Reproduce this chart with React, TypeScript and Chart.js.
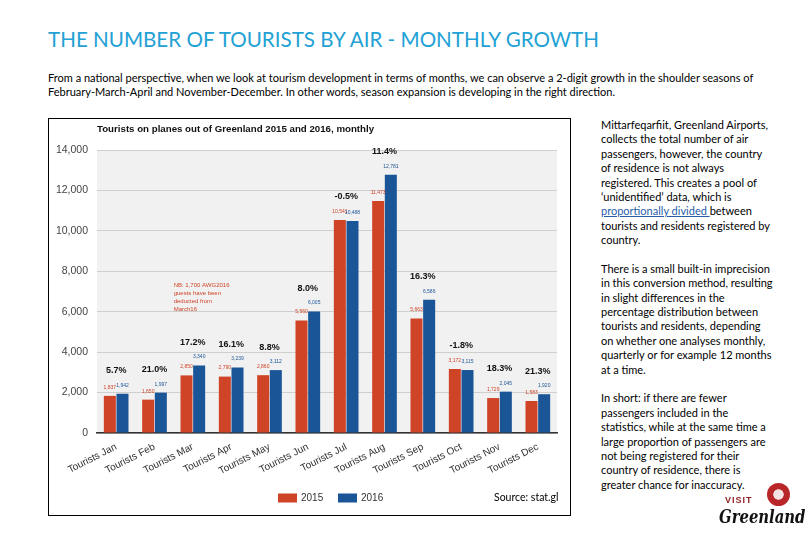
import React, { useEffect, useRef } from "react";
import { Chart, registerables } from "chart.js";

Chart.register(...registerables);

const categories = [
  "Tourists Jan", "Tourists Feb", "Tourists Mar", "Tourists Apr", "Tourists May", "Tourists Jun",
  "Tourists Jul", "Tourists Aug", "Tourists Sep", "Tourists Oct", "Tourists Nov", "Tourists Dec",
];
const values2015 = [1837, 1650, 2850, 2790, 2860, 5560, 10541, 11473, 5663, 3172, 1729, 1583];
const values2016 = [1942, 1997, 3340, 3239, 3112, 6005, 10488, 12781, 6586, 3115, 2045, 1920];
const growthLabels = ["5.7%", "21.0%", "17.2%", "16.1%", "8.8%", "8.0%", "-0.5%", "11.4%", "16.3%", "-1.8%", "18.3%", "21.3%"];
const seriesNames = ["2015", "2016"];
const yTicks = [0, 2000, 4000, 6000, 8000, 10000, 12000, 14000];
const noteLines = ["NB: 1,700 AWG2016", "guests have been", "deducted from", "March16"];

const RED = "#cf4327";
const BLUE = "#1a5597";
const SANS = "'Liberation Sans', Arial, sans-serif";

const overlayPlugin = {
  id: "overlay",
  beforeDraw(chart: any) {
    const { ctx, chartArea } = chart;
    ctx.save();
    ctx.fillStyle = "#f1f1f1";
    ctx.fillRect(chartArea.left, chartArea.top, chartArea.right - chartArea.left, chartArea.bottom - chartArea.top);
    ctx.restore();
  },
  afterDatasetsDraw(chart: any) {
    const { ctx, chartArea, scales } = chart;
    const m0 = chart.getDatasetMeta(0).data;
    const m1 = chart.getDatasetMeta(1).data;
    ctx.save();
    // chart title
    ctx.fillStyle = "#111";
    ctx.font = `bold 9.7px ${SANS}`;
    ctx.textAlign = "left";
    ctx.textBaseline = "middle";
    ctx.fillText("Tourists on planes out of Greenland 2015 and 2016, monthly", chartArea.left, 10.5);

    // value labels
    ctx.textAlign = "center";
    for (let i = 0; i < categories.length; i++) {
      const a = m0[i];
      const b = m1[i];
      ctx.font = `5px ${SANS}`;
      ctx.fillStyle = RED;
      ctx.fillText(values2015[i].toLocaleString("en-US"), a.x, a.y - 8.5);
      ctx.fillStyle = BLUE;
      ctx.fillText(values2016[i].toLocaleString("en-US"), b.x, b.y - 8.5);
      ctx.fillStyle = "#111";
      ctx.font = `bold 9px ${SANS}`;
      const top = Math.min(a.y, b.y);
      ctx.fillText(growthLabels[i], (a.x + b.x) / 2, top - 23);
    }

    // note
    const xs = scales.x;
    const ys = scales.y;
    const catW = xs.getPixelForValue(1) - xs.getPixelForValue(0);
    const nx = xs.getPixelForValue(2) - catW / 2;
    const ny = ys.getPixelForValue(7300);
    ctx.fillStyle = RED;
    ctx.font = `6px ${SANS}`;
    ctx.textAlign = "left";
    noteLines.forEach((t, k) => ctx.fillText(t, nx, ny + k * 8));

    // legend
    const ly = 379;
    const colors = [RED, BLUE];
    const lx = [229, 289];
    ctx.font = `10px ${SANS}`;
    for (let d = 0; d < 2; d++) {
      ctx.fillStyle = colors[d];
      ctx.fillRect(lx[d], ly - 4.5, 19, 9);
      ctx.fillStyle = "#333";
      ctx.fillText(chart.data.datasets[d].label, lx[d] + 23, ly + 0.5);
    }
    ctx.restore();
  },
};

function ChartBox() {
  const ref = useRef<HTMLCanvasElement | null>(null);
  useEffect(() => {
    if (!ref.current) return;
    const chart = new Chart(ref.current, {
      type: "bar",
      data: {
        labels: categories,
        datasets: [
          { label: seriesNames[0], data: values2015, backgroundColor: RED, barPercentage: 0.95, categoryPercentage: 0.66 },
          { label: seriesNames[1], data: values2016, backgroundColor: BLUE, barPercentage: 0.95, categoryPercentage: 0.66 },
        ],
      },
      options: {
        animation: false,
        responsive: false,
        events: [],
        layout: { padding: { top: 31, right: 13, left: 0, bottom: 0 } },
        plugins: { legend: { display: false }, title: { display: false }, tooltip: { enabled: false } },
        scales: {
          x: {
            grid: { display: false, drawTicks: false },
            border: { display: true, color: "#333", width: 1.5 },
            ticks: { autoSkip: false, minRotation: 27, maxRotation: 27, padding: 8, color: "#333", font: { family: SANS, size: 10 } },
            afterFit: (s: any) => { s.height = 82; },
          },
          y: {
            min: 0,
            max: 14000,
            afterBuildTicks: (s: any) => { s.ticks = yTicks.map((v) => ({ value: v })); },
            ticks: { padding: 9, color: "#444", font: { family: SANS, size: 10.5 }, callback: (v: any) => Number(v).toLocaleString("en-US") },
            grid: { color: "#cfcfcf", drawTicks: false },
            border: { display: false },
            afterFit: (s: any) => { s.width = 48; },
          },
        },
      },
      plugins: [overlayPlugin],
    });
    return () => chart.destroy();
  }, []);
  return <canvas ref={ref} width={521} height={396} style={{ width: 521, height: 396, display: "block" }} />;
}

const rightPara1 = [
  "Mittarfeqarfiit, Greenland Airports,",
  "collects the total number of air",
  "passengers, however, the country",
  "of residence is not always",
  "registered. This creates a pool of",
  "‘unidentified’ data, which is",
  "__LINK__",
  "tourists and residents registered by",
  "country.",
];
const rightPara2 = [
  "There is a small built-in imprecision",
  "in this conversion method, resulting",
  "in slight differences in the",
  "percentage distribution between",
  "tourists and residents, depending",
  "on whether one analyses monthly,",
  "quarterly or for example 12 months",
  "at a time.",
];
const rightPara3 = [
  "In short: if there are fewer",
  "passengers included in the",
  "statistics, while at the same time a",
  "large proportion of passengers are",
  "not being registered for their",
  "country of residence, there is",
  "greater chance for inaccuracy.",
];

export default function App() {
  const LH = 14.4;
  const lineStyle: React.CSSProperties = { whiteSpace: "nowrap", height: LH, lineHeight: `${LH}px` };
  const renderLines = (lines: string[]) =>
    lines.map((l, i) =>
      l === "__LINK__" ? (
        <div key={i} style={lineStyle}>
          <span style={{ color: "#2a5ea8", textDecoration: "underline" }}>proportionally divided </span>between
        </div>
      ) : (
        <div key={i} style={lineStyle}>{l}</div>
      )
    );
  return (
    <div style={{ position: "absolute", left: 0, top: 0, width: 810, height: 540, background: "#fff", fontFamily: "Lato, sans-serif", color: "#000", overflow: "hidden" }}>
      <div style={{ position: "absolute", left: 48, top: 27, fontSize: 20.6, color: "#22a1d4", whiteSpace: "nowrap", lineHeight: "24px" }}>
        THE NUMBER OF TOURISTS BY AIR - MONTHLY GROWTH
      </div>
      <div style={{ position: "absolute", left: 48, top: 71, fontSize: 11, lineHeight: "14px", whiteSpace: "nowrap" }}>
        <div>From a national perspective, when we look at tourism development in terms of months, we can observe a 2-digit growth in the shoulder seasons of</div>
        <div>February-March-April and November-December. In other words, season expansion is developing in the right direction.</div>
      </div>
      <div style={{ position: "absolute", left: 48, top: 118, width: 523, height: 398, border: "1px solid #000", boxSizing: "border-box" }} />
      <div style={{ position: "absolute", left: 49, top: 119 }}>
        <ChartBox />
      </div>
      <div style={{ position: "absolute", left: 494, top: 490, fontSize: 10.5, whiteSpace: "nowrap", lineHeight: "14px" }}>Source: stat.gl</div>
      <div style={{ position: "absolute", left: 601, top: 118, fontSize: 11 }}>
        {renderLines(rightPara1)}
        <div style={lineStyle} />
        {renderLines(rightPara2)}
        <div style={lineStyle} />
        {renderLines(rightPara3)}
      </div>
      <div style={{ position: "absolute", left: 767, top: 483, width: 23, height: 23, borderRadius: "50%", background: "radial-gradient(circle at 50% 50%, #f3e3e3 0 30%, #b8262a 34% 100%)" }} />
      <div style={{ position: "absolute", left: 725, top: 495, fontFamily: SANS, fontWeight: 700, fontSize: 9, letterSpacing: 1, color: "#8e1d1f", lineHeight: "10px" }}>VISIT</div>
      <div style={{ position: "absolute", left: 719, top: 503, fontFamily: "'DejaVu Serif', serif", fontStyle: "italic", fontWeight: 700, fontSize: 19, color: "#111", lineHeight: "26px", whiteSpace: "nowrap", transform: "scaleX(0.78)", transformOrigin: "left top" }}>Greenland</div>
    </div>
  );
}
